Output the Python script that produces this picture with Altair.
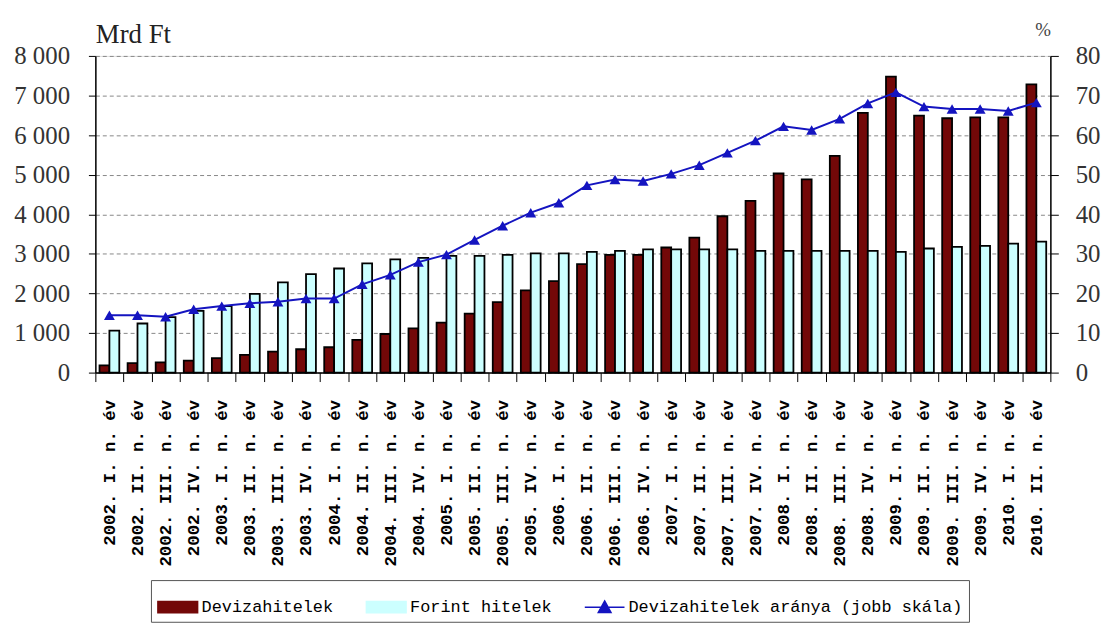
import altair as alt
import pandas as pd

roman = ["I", "II", "III", "IV"]
quarters = []
for y in range(2002, 2011):
    for q in roman:
        if y == 2010 and q in ("III", "IV"):
            continue
        quarters.append(f"{y}. {q}. n. év")

deviza = [180, 240, 260, 300, 365, 450, 530, 590, 640, 825, 975, 1115, 1260, 1490, 1780, 2075, 2310,
          2740, 2975, 2975, 3160, 3410, 3950, 4340, 5030, 4880, 5475, 6560, 7475, 6490, 6425, 6450, 6450, 7280]
forint = [1060, 1240, 1400, 1560, 1680, 1990, 2280, 2490, 2630, 2760, 2860, 2900, 2950, 2950, 2975, 3010, 3010,
          3050, 3075, 3115, 3115, 3115, 3115, 3075, 3075, 3075, 3075, 3075, 3050, 3135, 3175, 3200, 3260, 3310]
arany = [14.5, 14.5, 14.1, 16.0, 16.8, 17.5, 17.9, 18.7, 18.7, 22.3, 24.7, 27.9, 29.8, 33.5, 37.1, 40.4, 42.9,
         47.3, 48.8, 48.4, 50.2, 52.4, 55.5, 58.6, 62.2, 61.3, 64.1, 68.0, 70.8, 67.2, 66.6, 66.6, 66.1, 68.2]

S_DEV = "Devizahitelek"
S_FOR = "Forint hitelek"
S_ARA = "Devizahitelek aránya (jobb skála)"
series = [S_DEV, S_FOR, S_ARA]
colors = ["#730808", "#ccffff", "#1414c0"]
strokes = ["black", "black", "#1414c0"]
RECT = "M-1,-0.28H1V0.28H-1Z"
LINE_TRI = "M-1,0H1M0,-0.32L0.32,0.26L-0.32,0.26Z"

n = len(quarters)
bars_df = pd.DataFrame({
    "negyedev": quarters * 2,
    "sorozat": [S_DEV] * n + [S_FOR] * n,
    "ertek": deviza + forint,
})
line_df = pd.DataFrame({"negyedev": quarters, "sorozat": [S_ARA] * n, "arany": arany})
legend_df = pd.DataFrame({"sorozat": series})

legend = alt.Legend(
    orient="none", legendX=56, legendY=528, direction="horizontal", title=None,
    strokeColor="#555", fillColor="white", padding=6,
    labelFont="Liberation Mono", labelFontSize=17, labelColor="black", labelOffset=3, labelLimit=600,
    symbolSize=1600, columnPadding=30, symbolOpacity=1, symbolStrokeWidth=1.5,
)

color = alt.Color("sorozat:N", scale=alt.Scale(domain=series, range=colors), legend=legend)

x_enc = alt.X(
    "negyedev:N", sort=quarters, title=None,
    scale=alt.Scale(paddingInner=0, paddingOuter=0),
    axis=alt.Axis(labelAngle=-90, labelFont="Liberation Mono", labelFontSize=17.5, labelColor="black",
                  labelPadding=18, tickBand="extent", tickSize=9, tickColor="black", domainColor="black",
                  domainWidth=1.5, labelOverlap=False, labelFontWeight="bold"),
)

bars = alt.Chart(bars_df).mark_bar(stroke="black", strokeWidth=1.8, strokeOpacity=1).encode(
    x=x_enc,
    xOffset=alt.XOffset("sorozat:N", sort=[S_DEV, S_FOR],
                        scale=alt.Scale(paddingInner=0, paddingOuter=0.42)),
    y=alt.Y("ertek:Q", scale=alt.Scale(domain=[0, 8000], nice=False),
            axis=alt.Axis(title="Mrd Ft", titleAngle=0, titleX=0, titleY=-14, titleAlign="left",
                          titleBaseline="alphabetic", titleFont="Liberation Serif", titleFontSize=27,
                          titleFontWeight="normal", titleColor="#222",
                          values=list(range(0, 8001, 1000)),
                          labelExpr="datum.value >= 1000 ? floor(datum.value/1000) + ' 000' : '' + datum.value",
                          labelFont="Liberation Serif", labelFontSize=25, labelColor="#333",
                          labelPadding=19, tickSize=7, tickColor="black", domainColor="black",
                          domainWidth=1.5, grid=True, gridColor="#888", gridDash=[4, 3])),
    fill=color,
)

line = alt.Chart(line_df).mark_line(strokeWidth=2, point=alt.OverlayMarkDef(shape="triangle-up", size=120, filled=True)).encode(
    x=alt.X("negyedev:N", sort=quarters),
    y=alt.Y("arany:Q", scale=alt.Scale(domain=[0, 80], nice=False),
            axis=alt.Axis(orient="right", title="%", titleAngle=0, titleX=0, titleY=-21, titleAlign="right",
                          titleBaseline="alphabetic", titleFont="Liberation Serif", titleFontSize=19,
                          titleFontWeight="normal", titleColor="#444",
                          values=list(range(0, 81, 10)),
                          labelFont="Liberation Serif", labelFontSize=25, labelColor="#333",
                          labelPadding=17, tickSize=8, tickColor="black", domainColor="black",
                          domainWidth=1.5, grid=False)),
    color=color,
)

legend_layer = alt.Chart(legend_df).mark_point(filled=True, opacity=0).encode(
    color=color,
    shape=alt.Shape("sorozat:N", scale=alt.Scale(domain=series, range=[RECT, RECT, LINE_TRI]), legend=legend),
    stroke=alt.Stroke("sorozat:N", scale=alt.Scale(domain=series, range=strokes), legend=legend),
)

chart = alt.layer(bars, line, legend_layer).resolve_scale(y="independent").properties(
    width=962, height=319,
    autosize=alt.AutoSizeParams(type="none"),
    padding={"left": 88, "top": 46, "right": 52, "bottom": 255},
).configure_view(stroke="#444", strokeWidth=1.5).configure_legend(strokeWidth=2).configure(background="white")

chart.save("out.html", embed_options={"renderer": "svg", "actions": False})
